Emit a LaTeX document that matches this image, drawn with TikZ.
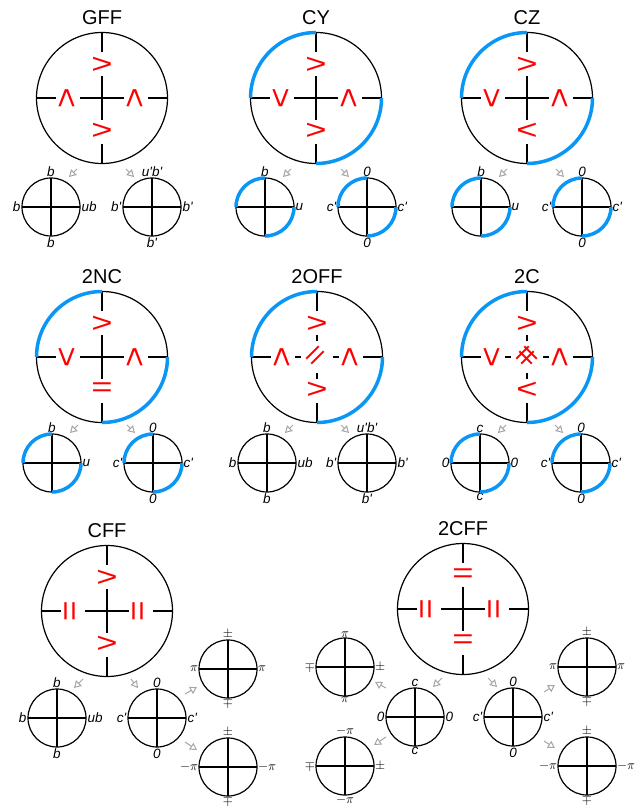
\documentclass[tikz,border=0pt]{standalone}
\usepackage{fontspec}
\usepackage{graphicx}
\setmainfont{Liberation Sans}
\newfontfamily\labfont{Liberation Sans}
\usetikzlibrary{calc,arrows.meta}
\definecolor{symred}{HTML}{FF0000}
\definecolor{dialblue}{HTML}{0A96F5}
\definecolor{feedgray}{HTML}{A6A6A6}

\tikzset{
  bigc/.style={circle, draw, line width=1.2pt, minimum size=131pt, inner sep=0pt, outer sep=0pt},
  smallc/.style={circle, draw, line width=1.2pt, minimum size=58pt, inner sep=0pt, outer sep=0pt},
  arm/.style={line width=1.2pt},
  dasharm/.style={line width=1.2pt, dash pattern=on 6pt off 6pt},
  sym/.style={text=symred, inner sep=0pt, font=\fontsize{28}{28}\selectfont},
  sidesym/.style={sym, font=\fontsize{32}{32}\selectfont},
  title/.style={inner sep=0pt, font=\fontsize{20}{20}\selectfont},
  lab/.style={inner sep=1.5pt, font=\fontsize{13.5}{13.5}\selectfont\labfont\itshape},
  mlab/.style={inner sep=0.8pt, font=\fontsize{10}{10}\selectfont},
  bluearc/.style={draw=dialblue, line width=3.5pt},
  feed/.style={draw=feedgray, line width=1pt, -{Triangle[open, length=7pt, width=8pt]}}
}

% big dial: name, centre, title
\newcommand{\bigdial}[3]{%
  \node[bigc] (#1) at (#2) {};
  \node[title] (#1-title) at ($(#1.north)+(0,-15)$) {#3};
  \draw[arm] (#1.north) -- ($(#1)+(0,-46)$);
  \draw[arm] (#1.south) -- ($(#1)+(0,46)$);
  \draw[arm] (#1.west) -- ($(#1)+(-46,0)$);
  \draw[arm] (#1.east) -- ($(#1)+(46,0)$);}
\newcommand{\solidcore}[1]{%
  \draw[arm] ($(#1)+(0,-22)$) -- ($(#1)+(0,22)$);
  \draw[arm] ($(#1)+(-22,0)$) -- ($(#1)+(22,0)$);}
\newcommand{\dashcore}[1]{%
  \foreach \dx/\dy in {0/-1,0/1,-1/0,1/0}
    \draw[dasharm] ($(#1)+(22*\dx,22*\dy)$) -- ($(#1)+(11*\dx,11*\dy)$);}
\newcommand{\widesym}[1]{\scalebox{1.3}[1]{#1}}
\newcommand{\tallsym}[1]{\scalebox{1.1}[1]{#1}}
\newcommand{\mth}[1]{\scalebox{1.3}{$#1$}}
% marks: name, top, bottom, left, right
\newcommand{\dialmarks}[5]{%
  \node[sym] (#1-n) at ($(#1)+(0,-33)$) {\widesym{#2}};
  \node[sym] (#1-s) at ($(#1)+(0,33)$) {\widesym{#3}};
  \node[rotate=90, sidesym] (#1-w) at ($(#1)+(-34,0)$) {\tallsym{#4}};
  \node[rotate=90, sidesym] (#1-e) at ($(#1)+(34,0)$) {\tallsym{#5}};}
\newcommand{\bluearcs}[2]{%
  \draw[bluearc] (#1.north) arc[start angle=90, delta angle=90, radius=#2];
  \draw[bluearc] (#1.east) arc[start angle=0, delta angle=-90, radius=#2];}
% small dial: [label style] name, centre, top, left, right, bottom
\newcommand{\smalldial}[7][lab]{%
  \node[smallc] (#2) at (#3) {};
  \draw[arm] (#2.north) -- (#2.south);
  \draw[arm] (#2.west) -- (#2.east);
  \node[#1, anchor=south] (#2-n) at (#2.north) {#4};
  \node[#1, anchor=east] (#2-w) at (#2.west) {#5};
  \node[#1, anchor=west] (#2-e) at (#2.east) {#6};
  \node[#1, anchor=north] (#2-s) at (#2.south) {#7};}
% feed arrow into a small dial: target, tail offset, tip offset
\newcommand{\feed}[3]{%
  \coordinate (#1-from) at ($(#1)+(#2)$);
  \coordinate (#1-to) at ($(#1)+(#3)$);
  \draw[feed] (#1-from) -- (#1-to);}
\newcommand{\prm}{\textquotesingle}

\begin{document}
\begin{tikzpicture}[x=1pt, y=-1pt]
\useasboundingbox (0,0) rectangle (641,806);

% GFF
\bigdial{gff}{102,98}{GFF}
\solidcore{gff}
\dialmarks{gff}{>}{>}{>}{>}
\smalldial{gffL}{51,207}{b}{b}{ub}{b}
\smalldial{gffR}{152,207}{u\prm b\prm}{b\prm}{b\prm}{b\prm}
\feed{gffL}{26,-38}{18,-30}
\feed{gffR}{-26,-38}{-18,-30}

% CY
\bigdial{cy}{316,98}{CY}
\solidcore{cy}
\dialmarks{cy}{>}{>}{<}{>}
\bluearcs{cy}{65.5pt}
\smalldial{cyL}{265,207}{b}{}{u}{}
\bluearcs{cyL}{29pt}
\smalldial{cyR}{367,207}{0}{c\prm}{c\prm}{0}
\bluearcs{cyR}{29pt}
\feed{cyL}{26,-38}{18,-30}
\feed{cyR}{-26,-38}{-18,-30}

% CZ
\bigdial{cz}{527,98}{CZ}
\solidcore{cz}
\dialmarks{cz}{>}{<}{<}{>}
\bluearcs{cz}{65.5pt}
\smalldial{czL}{481,207}{b}{}{u}{}
\bluearcs{czL}{29pt}
\smalldial{czR}{582,207}{0}{c\prm}{c\prm}{0}
\bluearcs{czR}{29pt}
\feed{czL}{26,-38}{18,-30}
\feed{czR}{-26,-38}{-18,-30}

% 2NC
\bigdial{tnc}{102,357}{2NC}
\solidcore{tnc}
\dialmarks{tnc}{>}{=}{<}{>}
\bluearcs{tnc}{65.5pt}
\smalldial{tncL}{52,463}{b}{}{u}{}
\bluearcs{tncL}{29pt}
\smalldial{tncR}{153,463}{0}{c\prm}{c\prm}{0}
\bluearcs{tncR}{29pt}
\feed{tncL}{26,-38}{18,-30}
\feed{tncR}{-26,-38}{-18,-30}

% 2OFF
\bigdial{toff}{317,357}{2OFF}
\dashcore{toff}
\dialmarks{toff}{>}{>}{>}{>}
\node[rotate=45, sym] (toff-c) at (toff) {\widesym{=}};
\bluearcs{toff}{65.5pt}
\smalldial{toffL}{267,463}{b}{b}{ub}{b}
\smalldial{toffR}{367,463}{u\prm b\prm}{b\prm}{b\prm}{b\prm}
\feed{toffL}{26,-38}{18,-30}
\feed{toffR}{-26,-38}{-18,-30}

% 2C
\bigdial{tc}{527,357}{2C}
\dashcore{tc}
\dialmarks{tc}{>}{<}{<}{>}
\node[rotate=45, sym] (tc-c1) at (tc) {\widesym{=}};
\node[rotate=-45, sym] (tc-c2) at (tc) {\widesym{=}};
\bluearcs{tc}{65.5pt}
\smalldial{tcL}{480,463}{c}{0}{0}{c}
\bluearcs{tcL}{29pt}
\smalldial{tcR}{581,463}{0}{c\prm}{c\prm}{0}
\bluearcs{tcR}{29pt}
\feed{tcL}{26,-38}{18,-30}
\feed{tcR}{-26,-38}{-18,-30}

% CFF
\bigdial{cff}{107,611}{CFF}
\solidcore{cff}
\dialmarks{cff}{>}{>}{=}{=}
\smalldial{cffL}{57,718}{b}{b}{ub}{b}
\smalldial{cffR}{157,718}{0}{c\prm}{c\prm}{0}
\smalldial[mlab]{cffU}{228,669}{\mth{\pm}}{\mth{\pi}}{\mth{\pi}}{\mth{\mp}}
\smalldial[mlab]{cffD}{228,767}{\mth{\pm}}{\mth{-\pi}}{\mth{-\pi}}{\mth{\mp}}
\feed{cffL}{26,-39}{17,-30}
\feed{cffR}{-26,-39}{-19,-30}
\feed{cffU}{-43,25}{-31,18}
\feed{cffD}{-43,-25}{-31,-17}

% 2CFF
\bigdial{tcff}{463,609}{2CFF}
\solidcore{tcff}
\dialmarks{tcff}{=}{=}{=}{=}
\smalldial{tcffL}{415,717}{c}{0}{0}{c}
\smalldial{tcffR}{513,717}{0}{c\prm}{c\prm}{0}
\smalldial[mlab]{tcffUL}{345,667}{\mth{\pi}}{\mth{\mp}}{\mth{\pm}}{\mth{\pi}}
\smalldial[mlab]{tcffDL}{345,766}{\mth{-\pi}}{\mth{\mp}}{\mth{\pm}}{\mth{-\pi}}
\smalldial[mlab]{tcffUR}{587,667}{\mth{\pm}}{\mth{\pi}}{\mth{\pi}}{\mth{\mp}}
\smalldial[mlab]{tcffDR}{587,766}{\mth{\pm}}{\mth{-\pi}}{\mth{-\pi}}{\mth{\mp}}
\feed{tcffL}{27,-39}{18,-30}
\feed{tcffR}{-25,-39}{-16,-30}
\feed{tcffUL}{41,21}{30,15}
\feed{tcffDL}{41,-29}{29,-21}
\feed{tcffUR}{-43,25}{-32,18}
\feed{tcffDR}{-43,-25}{-32,-18}
\end{tikzpicture}
\end{document}
